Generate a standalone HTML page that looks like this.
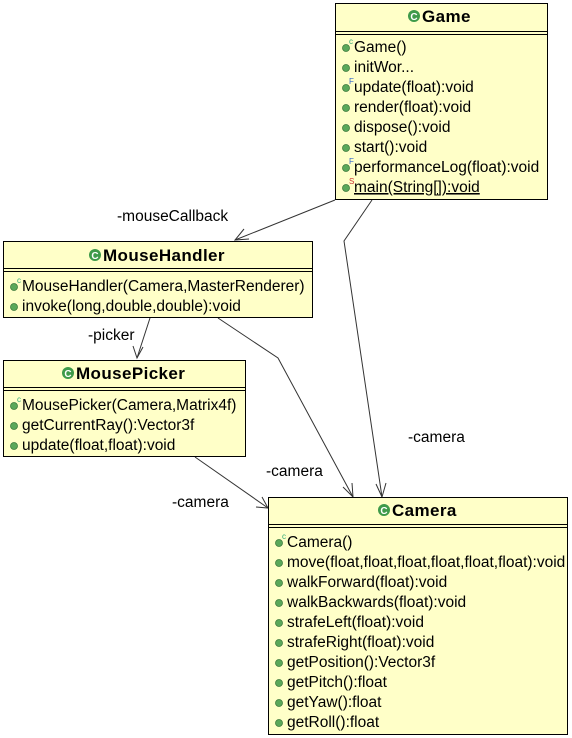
<!DOCTYPE html>
<html><head><meta charset="utf-8"><style>
html,body{margin:0;padding:0;background:#fff;width:572px;height:738px;overflow:hidden}
svg text{font-family:"Liberation Sans",Arial,sans-serif;font-size:15.5px;fill:#000}
.t{font-weight:bold;font-size:17px;letter-spacing:0.4px}
.s{font-size:8px}
</style></head><body>
<svg width="572" height="738" viewBox="0 0 572 738" xmlns="http://www.w3.org/2000/svg">
<defs>
<g id="m"><circle cx="0" cy="0" r="3.5" fill="#5aa85a" stroke="#3d7a3d" stroke-width="0.8"/></g>
<g id="C"><circle cx="0" cy="0" r="6" fill="#3e9a4a"/><text x="0" y="4" text-anchor="middle" style="font-size:10px;font-weight:bold;fill:#fff">C</text></g>
</defs>
<g stroke="#333" stroke-width="1" fill="none">
<line x1="335" y1="200" x2="235" y2="240"/><polyline points="244,229 235,240 249,239"/>
<polyline points="372,200 344,241 382,497"/><polyline points="376,484 382,497 386,483"/>
<line x1="150" y1="318" x2="137" y2="358"/><polyline points="133,346 137,358 143,347"/>
<polyline points="218,318 278,358 353,497"/><polyline points="343,487 353,497 352,483"/>
<line x1="195" y1="457" x2="268" y2="508"/><polyline points="256,507 268,508 262,497"/>
</g>
<text x="117" y="221">-mouseCallback</text>
<text x="408" y="442">-camera</text>
<text x="88" y="340">-picker</text>
<text x="266" y="476">-camera</text>
<text x="172" y="507">-camera</text>

<!-- Game -->
<rect x="335.5" y="3.5" width="212" height="196" fill="#ffffc8" stroke="#000"/>
<line x1="335" y1="31.5" x2="548" y2="31.5" stroke="#000"/><line x1="335" y1="34.5" x2="548" y2="34.5" stroke="#000"/>
<use href="#C" x="414" y="16"/><text class="t" x="422" y="22">Game</text>
<use href="#m" x="346" y="48"/><text x="349" y="44" class="s" style="fill:#3a7">c</text><text x="354" y="52">Game()</text>
<use href="#m" x="346" y="68"/><text x="354" y="72">initWor...</text>
<use href="#m" x="346" y="88"/><text x="349" y="84" class="s" style="fill:#36c">F</text><text x="354" y="92">update(float):void</text>
<use href="#m" x="346" y="108"/><text x="354" y="112">render(float):void</text>
<use href="#m" x="346" y="128"/><text x="354" y="132">dispose():void</text>
<use href="#m" x="346" y="148"/><text x="354" y="152">start():void</text>
<use href="#m" x="346" y="168"/><text x="349" y="164" class="s" style="fill:#36c">F</text><text x="354" y="172">performanceLog(float):void</text>
<use href="#m" x="346" y="188"/><text x="349" y="184" class="s" style="fill:#c33">S</text><text x="354" y="192" text-decoration="underline">main(String[]):void</text>

<!-- MouseHandler -->
<rect x="3.5" y="241.5" width="309" height="76" fill="#ffffc8" stroke="#000"/>
<line x1="3" y1="268.5" x2="313" y2="268.5" stroke="#000"/><line x1="3" y1="271.5" x2="313" y2="271.5" stroke="#000"/>
<use href="#C" x="95" y="255"/><text class="t" x="103" y="261">MouseHandler</text>
<use href="#m" x="14" y="287"/><text x="17" y="283" class="s" style="fill:#3a7">c</text><text x="22" y="291">MouseHandler(Camera,MasterRenderer)</text>
<use href="#m" x="14" y="307"/><text x="22" y="311">invoke(long,double,double):void</text>

<!-- MousePicker -->
<rect x="3.5" y="360.5" width="242" height="96" fill="#ffffc8" stroke="#000"/>
<line x1="3" y1="387.5" x2="246" y2="387.5" stroke="#000"/><line x1="3" y1="390.5" x2="246" y2="390.5" stroke="#000"/>
<use href="#C" x="68" y="373"/><text class="t" x="76" y="379">MousePicker</text>
<use href="#m" x="14" y="406"/><text x="17" y="402" class="s" style="fill:#3a7">c</text><text x="22" y="410">MousePicker(Camera,Matrix4f)</text>
<use href="#m" x="14" y="426"/><text x="22" y="430">getCurrentRay():Vector3f</text>
<use href="#m" x="14" y="446"/><text x="22" y="450">update(float,float):void</text>

<!-- Camera -->
<rect x="268.5" y="497.5" width="299" height="237" fill="#ffffc8" stroke="#000"/>
<line x1="268" y1="524.5" x2="568" y2="524.5" stroke="#000"/><line x1="268" y1="527.5" x2="568" y2="527.5" stroke="#000"/>
<use href="#C" x="384" y="510"/><text class="t" x="392" y="516">Camera</text>
<use href="#m" x="279" y="543"/><text x="282" y="539" class="s" style="fill:#3a7">c</text><text x="287" y="547">Camera()</text>
<use href="#m" x="279" y="563"/><text x="287" y="567">move(float,float,float,float,float,float):void</text>
<use href="#m" x="279" y="583"/><text x="287" y="587">walkForward(float):void</text>
<use href="#m" x="279" y="603"/><text x="287" y="607">walkBackwards(float):void</text>
<use href="#m" x="279" y="623"/><text x="287" y="627">strafeLeft(float):void</text>
<use href="#m" x="279" y="643"/><text x="287" y="647">strafeRight(float):void</text>
<use href="#m" x="279" y="663"/><text x="287" y="667">getPosition():Vector3f</text>
<use href="#m" x="279" y="683"/><text x="287" y="687">getPitch():float</text>
<use href="#m" x="279" y="703"/><text x="287" y="707">getYaw():float</text>
<use href="#m" x="279" y="723"/><text x="287" y="727">getRoll():float</text>
</svg>
</body></html>
